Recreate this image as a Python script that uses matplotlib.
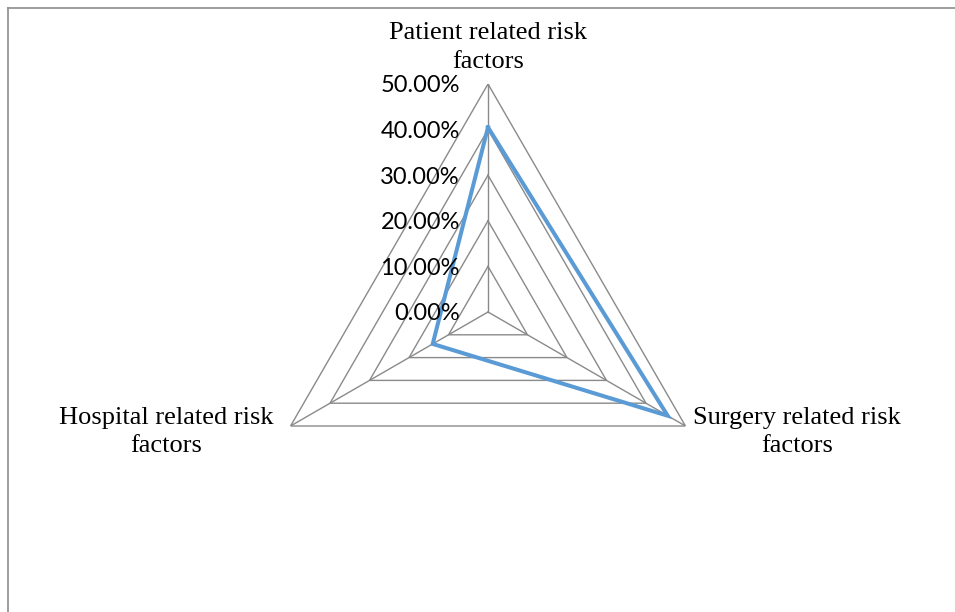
import numpy as np
import matplotlib
matplotlib.use("Agg")
import matplotlib.pyplot as plt
from matplotlib.lines import Line2D

# Share of risk factors by group
categories = ["Patient related risk\nfactors",
              "Surgery related risk\nfactors",
              "Hospital related risk\nfactors"]
values = [0.405, 0.455, 0.14]
ring_levels = [0.0, 0.1, 0.2, 0.3, 0.4, 0.5]
ring_labels = ["0.00%", "10.00%", "20.00%", "30.00%", "40.00%", "50.00%"]

W, H = 955, 612
fig = plt.figure(figsize=(W / 100, H / 100), dpi=100)

# Radar area: centre (488, 312) px, outer radius 228 px
cx, cy, R = 488, 312, 228
ax = fig.add_axes([(cx - R) / W, (H - cy - R) / H, 2 * R / W, 2 * R / H],
                  projection="polar")
ax.set_theta_offset(np.pi / 2)
ax.set_theta_direction(-1)
ax.set_ylim(0, ring_levels[-1])
ax.grid(False)
ax.spines["polar"].set_visible(False)
ax.set_xticks([])
ax.set_yticks([])
ax.patch.set_alpha(0)

n = len(categories)
theta = np.arange(n) * 2 * np.pi / n
theta_closed = np.append(theta, theta[0])

grid_col = "#8a8a8a"
for lvl in ring_levels[1:]:
    ax.plot(theta_closed, [lvl] * (n + 1), color=grid_col, lw=1.0, zorder=1)
for t in theta:
    ax.plot([t, t], [0, ring_levels[-1]], color=grid_col, lw=1.0, zorder=1)

vals_closed = values + values[:1]
ax.plot(theta_closed, vals_closed, color="#5B9BD5", lw=2.9, zorder=3,
        solid_joinstyle="miter")

# Value labels along the top spoke
for lvl, lab in zip(ring_levels, ring_labels):
    ax.annotate(lab, xy=(0, lvl), xytext=(-28, -2), textcoords="offset pixels",
                ha="right", va="center", fontsize=17, family="Lato",
                color="#000000", zorder=4, annotation_clip=False)

# Category labels at the outer vertices
serif = "Liberation Serif"
lsp = 1.4
ax.annotate(categories[0], xy=(theta[0], 0.5), xytext=(0, 11),
            textcoords="offset pixels", ha="center", va="bottom",
            multialignment="center", fontsize=19, family=serif,
            linespacing=lsp, annotation_clip=False)
ax.annotate(categories[1], xy=(theta[1], 0.5), xytext=(8, -6),
            textcoords="offset pixels", ha="left", va="center",
            multialignment="center", fontsize=19, family=serif,
            linespacing=lsp, annotation_clip=False)
ax.annotate(categories[2], xy=(theta[2], 0.5), xytext=(-17, -6),
            textcoords="offset pixels", ha="right", va="center",
            multialignment="center", fontsize=19, family=serif,
            linespacing=lsp, annotation_clip=False)

# Chart frame (top and left edges visible)
frame_col = "#8c8c8c"
fig.add_artist(Line2D([8 / W, 1.0], [1 - 7.5 / H, 1 - 7.5 / H],
                      color=frame_col, lw=1.2, transform=fig.transFigure))
fig.add_artist(Line2D([8 / W, 8 / W], [0.0, 1 - 7.5 / H],
                      color=frame_col, lw=1.2, transform=fig.transFigure))

fig.savefig("out.png", dpi=100, facecolor="white")
